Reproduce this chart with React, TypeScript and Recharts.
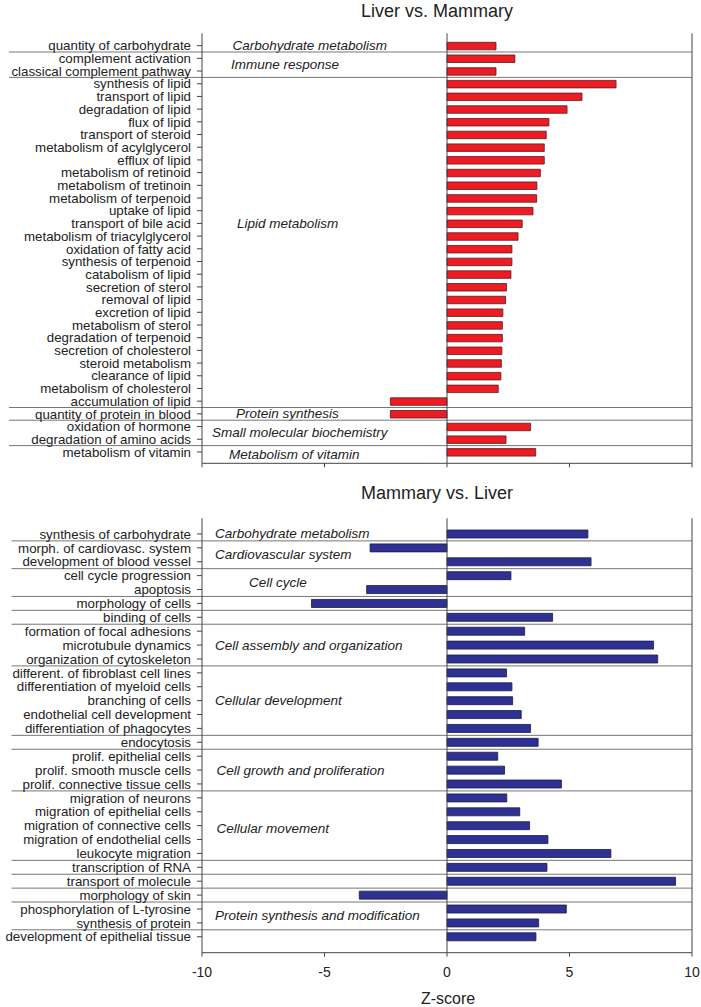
import React from 'react';
import { BarChart, Bar, XAxis, YAxis, ReferenceLine, ReferenceArea } from 'recharts';

const FONT = "'Liberation Sans', Arial, Helvetica, sans-serif";

// ---------- Data ----------
const topTitle = 'Liver vs. Mammary';
const bottomTitle = 'Mammary vs. Liver';
const xTicks = [-10, -5, 0, 5, 10];
const xLabel = 'Z-score';

const topCategories = [
  'quantity of carbohydrate',
  'complement activation',
  'classical complement pathway',
  'synthesis of lipid',
  'transport of lipid',
  'degradation of lipid',
  'flux of lipid',
  'transport of steroid',
  'metabolism of acylglycerol',
  'efflux of lipid',
  'metabolism of retinoid',
  'metabolism of tretinoin',
  'metabolism of terpenoid',
  'uptake of lipid',
  'transport of bile acid',
  'metabolism of triacylglycerol',
  'oxidation of fatty acid',
  'synthesis of terpenoid',
  'catabolism of lipid',
  'secretion of sterol',
  'removal of lipid',
  'excretion of lipid',
  'metabolism of sterol',
  'degradation of terpenoid',
  'secretion of cholesterol',
  'steroid metabolism',
  'clearance of lipid',
  'metabolism of cholesterol',
  'accumulation of lipid',
  'quantity of protein in blood',
  'oxidation of hormone',
  'degradation of amino acids',
  'metabolism of vitamin',
];
const topZ = [
  2.0, 2.77, 2.0, 6.9, 5.51, 4.9, 4.16, 4.05, 3.97, 3.97, 3.81, 3.67, 3.66, 3.51, 3.07,
  2.9, 2.65, 2.65, 2.61, 2.43, 2.39, 2.28, 2.26, 2.26, 2.24, 2.22, 2.2, 2.09, -2.31, -2.31,
  3.41, 2.41, 3.62,
];
// [group label, number of consecutive categories]
const topGroups: [string, number][] = [
  ['Carbohydrate metabolism', 1],
  ['Immune response', 2],
  ['Lipid metabolism', 26],
  ['Protein synthesis', 1],
  ['Small molecular biochemistry', 2],
  ['Metabolism of vitamin', 1],
];

const bottomCategories = [
  'synthesis of carbohydrate',
  'morph. of cardiovasc. system',
  'development of blood vessel',
  'cell cycle progression',
  'apoptosis',
  'morphology of cells',
  'binding of cells',
  'formation of focal adhesions',
  'microtubule dynamics',
  'organization of cytoskeleton',
  'different. of fibroblast cell lines',
  'differentiation of myeloid cells',
  'branching of cells',
  'endothelial cell development',
  'differentiation of phagocytes',
  'endocytosis',
  'prolif. epithelial cells',
  'prolif. smooth muscle cells',
  'prolif. connective tissue cells',
  'migration of neurons',
  'migration of epithelial cells',
  'migration of connective cells',
  'migration of endothelial cells',
  'leukocyte migration',
  'transcription of RNA',
  'transport of molecule',
  'morphology of skin',
  'phosphorylation of L-tyrosine',
  'synthesis of protein',
  'development of epithelial tissue',
];
const bottomZ = [
  5.75, -3.14, 5.88, 2.61, -3.28, -5.53, 4.31, 3.17, 8.43, 8.6, 2.43, 2.65, 2.68, 3.03, 3.41,
  3.72, 2.07, 2.35, 4.67, 2.44, 2.97, 3.37, 4.12, 6.69, 4.08, 9.33, -3.58, 4.87, 3.74, 3.63,
];
const bottomGroups: [string, number][] = [
  ['Carbohydrate metabolism', 1],
  ['Cardiovascular system', 2],
  ['Cell cycle', 2],
  ['', 1],
  ['', 1],
  ['Cell assembly and organization', 3],
  ['Cellular development', 5],
  ['', 1],
  ['Cell growth and proliferation', 3],
  ['Cellular movement', 5],
  ['', 1],
  ['', 1],
  ['', 1],
  ['Protein synthesis and modification', 2],
  ['', 1],
];

// ---------- Styles (label placement tweaks) ----------
const topLabelPlacement: Record<string, { dx?: number; dy?: number }> = {
  'Immune response': { dx: 29 },
  'Lipid metabolism': { dx: 35, dy: -19 },
  'Protein synthesis': { dx: 34 },
  'Small molecular biochemistry': { dx: 10 },
  'Metabolism of vitamin': { dx: 27, dy: 3 },
};
const bottomLabelPlacement: Record<string, { dx?: number; dy?: number }> = {
  'Cell cycle': { dx: 47 },
  'Cell growth and proliferation': { dx: 14.5 },
  'Cellular movement': { dx: 14.5, dy: 2.5 },
};

const AXIS = '#444';
const SEP = '#777';
const TEXT = '#222';

function CategoryTick(props: any) {
  const { x, y, payload } = props;
  return (
    <text x={x} y={y} dy="0.355em" textAnchor="end" fontSize={13.3} fontFamily={FONT} fill={TEXT}>
      {payload.value}
    </text>
  );
}

type PanelProps = {
  categories: string[];
  values: number[];
  groups: [string, number][];
  placement: Record<string, { dx?: number; dy?: number }>;
  defaultInset: number;
  fill: string;
  stroke: string;
  height: number;
  marginTop: number;
  marginBottom: number;
  xAxisHeight: number;
  padTop: number;
  padBottom: number;
  barSize: number;
  sepLeft: number;
  showXTicks: boolean;
};

function Panel(p: PanelProps) {
  const rows = p.categories.map((name, i) => ({ name, z: p.values[i] }));
  let idx = 0;
  const spans = p.groups.map(([label, count]) => {
    const from = p.categories[idx];
    const to = p.categories[idx + count - 1];
    idx += count;
    return { label, from, to };
  });

  return (
    <BarChart
      width={701}
      height={p.height}
      data={rows}
      layout="vertical"
      margin={{ top: p.marginTop, right: 9, bottom: p.marginBottom, left: 0 }}
      barCategoryGap={0}
    >
      <XAxis
        type="number"
        domain={[-10, 10]}
        ticks={xTicks}
        allowDataOverflow
        height={p.xAxisHeight}
        stroke={AXIS}
        tickSize={4}
        tickMargin={10}
        tick={{ fill: TEXT, fontSize: 14, fontFamily: FONT }}
        tickFormatter={p.showXTicks ? (v: number) => String(v) : () => ''}
      />
      <YAxis
        type="category"
        dataKey="name"
        width={202}
        interval={0}
        tickSize={5}
        tickMargin={6}
        padding={{ top: p.padTop, bottom: p.padBottom }}
        stroke={AXIS}
        tick={<CategoryTick />}
      />
      {spans.map((s, i) =>
        s.label ? (
          <ReferenceArea
            key={'a' + i}
            y1={s.from}
            y2={s.to}
            fill="none"
            fillOpacity={0}
            stroke="none"
            label={(lp: any) => {
              const vb = lp.viewBox || lp;
              const pl = p.placement[s.label] || {};
              const dx = pl.dx ?? p.defaultInset;
              const dy = pl.dy ?? 0;
              return (
                <text
                  x={vb.x + dx}
                  y={vb.y + vb.height / 2 + dy}
                  fontSize={13.5}
                  fontStyle="italic"
                  fontFamily={FONT}
                  fill={TEXT}
                  dominantBaseline="central"
                >
                  {s.label}
                </text>
              );
            }}
          />
        ) : null
      )}
      {spans.slice(0, -1).map((s, i) => (
        <ReferenceLine
          key={'s' + i}
          y={s.to}
          position="end"
          stroke={SEP}
          shape={(lp: any) => (
            <line x1={p.sepLeft} y1={lp.y1} x2={Math.max(lp.x1, lp.x2)} y2={lp.y2} stroke={SEP} strokeWidth={1} />
          )}
        />
      ))}
      <ReferenceLine x={0} stroke={AXIS} strokeWidth={1} />
      <ReferenceLine x={10} stroke={AXIS} strokeWidth={1} />
      <Bar dataKey="z" fill={p.fill} stroke={p.stroke} strokeWidth={0.8} barSize={p.barSize} isAnimationActive={false} />
    </BarChart>
  );
}

export default function App() {
  return (
    <div
      style={{
        position: 'absolute',
        left: 0,
        top: 0,
        width: 701,
        height: 1007,
        background: '#fff',
        fontFamily: FONT,
        overflow: 'hidden',
      }}
    >
      <div style={{ position: 'absolute', left: 0, top: 0 }}>
        <Panel
          categories={topCategories}
          values={topZ}
          groups={topGroups}
          placement={topLabelPlacement}
          defaultInset={30.5}
          fill="#ed1c24"
          stroke="#5a1a1a"
          height={470}
          marginTop={33.3}
          marginBottom={0}
          xAxisHeight={6.7}
          padTop={6}
          padBottom={5}
          barSize={7.5}
          sepLeft={9}
          showXTicks={false}
        />
      </div>
      <div style={{ position: 'absolute', left: 0, top: 470 }}>
        <Panel
          categories={bottomCategories}
          values={bottomZ}
          groups={bottomGroups}
          placement={bottomLabelPlacement}
          defaultInset={13}
          fill="#2e3192"
          stroke="#1a1a4a"
          height={537}
          marginTop={48.3}
          marginBottom={24.3}
          xAxisHeight={30}
          padTop={8.7}
          padBottom={9}
          barSize={8}
          sepLeft={11.5}
          showXTicks={true}
        />
      </div>
      <svg
        width={701}
        height={1007}
        style={{ position: 'absolute', left: 0, top: 0, pointerEvents: 'none' }}
      >
        <text x={437} y={16.5} textAnchor="middle" fontSize={18} fontFamily={FONT} fill={TEXT}>
          {topTitle}
        </text>
        <text x={437} y={499} textAnchor="middle" fontSize={18} fontFamily={FONT} fill={TEXT}>
          {bottomTitle}
        </text>
        <text x={448} y={1004} textAnchor="middle" fontSize={16} fontFamily={FONT} fill={TEXT}>
          {xLabel}
        </text>
      </svg>
    </div>
  );
}
